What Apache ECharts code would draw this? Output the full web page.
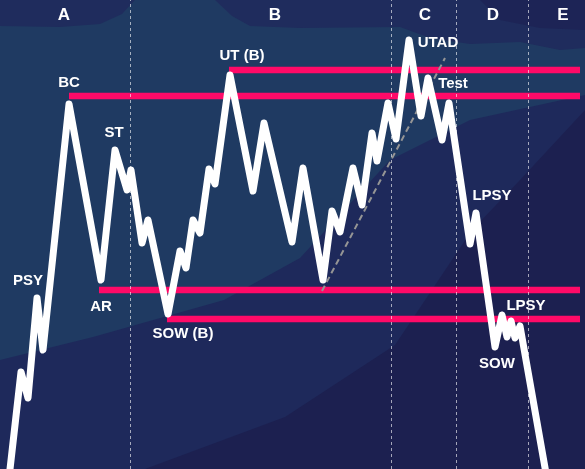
<!DOCTYPE html>
<html>
<head>
<meta charset="utf-8">
<script src="https://cdn.jsdelivr.net/npm/echarts@6/dist/echarts.min.js"></script>
<style>
html,body{margin:0;padding:0;background:#1c2050;}
#c{width:585px;height:469px;}
</style>
</head>
<body>
<div id="c"></div>
<script>
// Price path (time index, price)
const times  = [9,21,28,37,43,69,101,115,127,131,142,148,168,180,186,193,200,209,215,230,253,264,292,303,323,332,340,353,362,372,377,388,396,409,421,428,442,449,470,476,495,502,507,511,515,520,547];
const prices = [-9,97,71,171,119,365,189,319,279,299,226,249,155,218,201,249,236,300,285,394,278,346,227,301,189,258,237,301,264,336,308,366,330,429,353,391,329,366,225,256,122,154,132,148,131,143,-10];

// Horizontal support / resistance levels
const levelPrices = [399, 373, 179, 150];
const levelStarts = [229, 69, 99, 167];
const levelEnd = 580;

// Phase boundaries and phase labels
const phaseBounds = [130, 391, 456, 528];
const phaseNames = ['A', 'B', 'C', 'D', 'E'];
const phaseCenters = [64, 275, 425, 493, 563];
const phaseLabelPrice = 454;

// Trend line
const trendTimes = [322, 445];
const trendPrices = [178, 411];

// Event annotations
const eventNames  = ['PSY', 'BC', 'ST', 'AR', 'SOW (B)', 'UT (B)', 'UTAD', 'Test', 'LPSY', 'LPSY', 'SOW'];
const eventTimes  = [28, 69, 114, 101, 183, 242, 438, 453, 492, 526, 497];
const eventPrices = [188, 386, 336, 162, 135, 413, 426, 385, 273, 163, 105];

const W = 585, H = 469;
const chart = echarts.init(document.getElementById('c'), null, {renderer: 'canvas'});

const FONT = '"Liberation Sans", Arial, Helvetica, sans-serif';

const series = [];

// phase boundary dashed lines
series.push({
  type: 'line', data: [], z: 1, silent: true,
  markLine: {
    silent: true, symbol: ['none', 'none'], animation: false,
    label: {show: false},
    lineStyle: {color: 'rgba(255,255,255,0.6)', type: [3, 3], width: 1},
    data: phaseBounds.map(x => ({xAxis: x}))
  }
});

// levels
levelPrices.forEach((p, i) => {
  series.push({
    type: 'line', z: 3, silent: true, symbol: 'none', animation: false,
    data: [[levelStarts[i], p], [levelEnd, p]],
    lineStyle: {color: '#ff0a68', width: 6.5, cap: 'butt'}
  });
});

// trend line
series.push({
  type: 'line', z: 4, silent: true, symbol: 'none', animation: false,
  data: trendTimes.map((t, i) => [t, trendPrices[i]]),
  lineStyle: {color: '#959595', width: 2, type: [6, 4]}
});

// price path
series.push({
  type: 'line', z: 5, silent: true, symbol: 'none', animation: false,
  data: times.map((t, i) => [t, prices[i]]),
  lineStyle: {color: '#ffffff', width: 7, cap: 'round', join: 'round'}
});

const labelStyle = (size) => ({
  show: true, position: 'inside', formatter: p => p.name, color: '#ffffff',
  fontFamily: FONT, fontWeight: 'bold', fontSize: size,
  textBorderWidth: 0, textBorderColor: 'transparent', textShadowBlur: 0, opacity: 1
});

// event labels
series.push({
  type: 'scatter', z: 6, silent: true, symbolSize: 0, animation: false,
  itemStyle: {color: '#ffffff', opacity: 1},
  data: eventNames.map((n, i) => ({name: n, value: [eventTimes[i], eventPrices[i]]})),
  label: labelStyle(15)
});

// phase labels
series.push({
  type: 'scatter', z: 6, silent: true, symbolSize: 0, animation: false,
  itemStyle: {color: '#ffffff', opacity: 1},
  data: phaseNames.map((n, i) => ({name: n, value: [phaseCenters[i], phaseLabelPrice]})),
  label: labelStyle(17)
});

chart.setOption({
  animation: false,
  backgroundColor: '#1c2050',
  graphic: [
    {type: 'polygon', silent: true, z: -10,
     shape: {points: [[0,0],[585,0],[585,110],[520,180],[472,230],[395,345],[285,417],[145,469],[0,469]]},
     style: {fill: '#1e295b'}},
    {type: 'polygon', silent: true, z: -9,
     shape: {points: [[0,0],[585,0],[585,95],[470,120],[390,160],[300,258],[224,300],[93,337],[0,360]]},
     style: {fill: '#1f3a62'}},
    {type: 'polygon', silent: true, z: -8,
     shape: {points: [[0,0],[135,0],[122,14],[100,24],[60,27],[0,26]]},
     style: {fill: '#1f2c5d'}},
    {type: 'polygon', silent: true, z: -8,
     shape: {points: [[215,0],[585,0],[585,48],[560,50],[520,42],[470,44],[430,38],[400,27],[300,28],[250,26],[232,16]]},
     style: {fill: '#1f2c5d'}},
    {type: 'polygon', silent: true, z: -7,
     shape: {points: [[480,0],[585,0],[585,30],[540,28],[500,20]]},
     style: {fill: '#1d2456'}}
  ],
  grid: {left: 0, right: 0, top: 0, bottom: 0, containLabel: false},
  xAxis: {type: 'value', min: 0, max: W, show: false},
  yAxis: {type: 'value', min: 0, max: H, show: false},
  series: series
});
</script>
</body>
</html>
